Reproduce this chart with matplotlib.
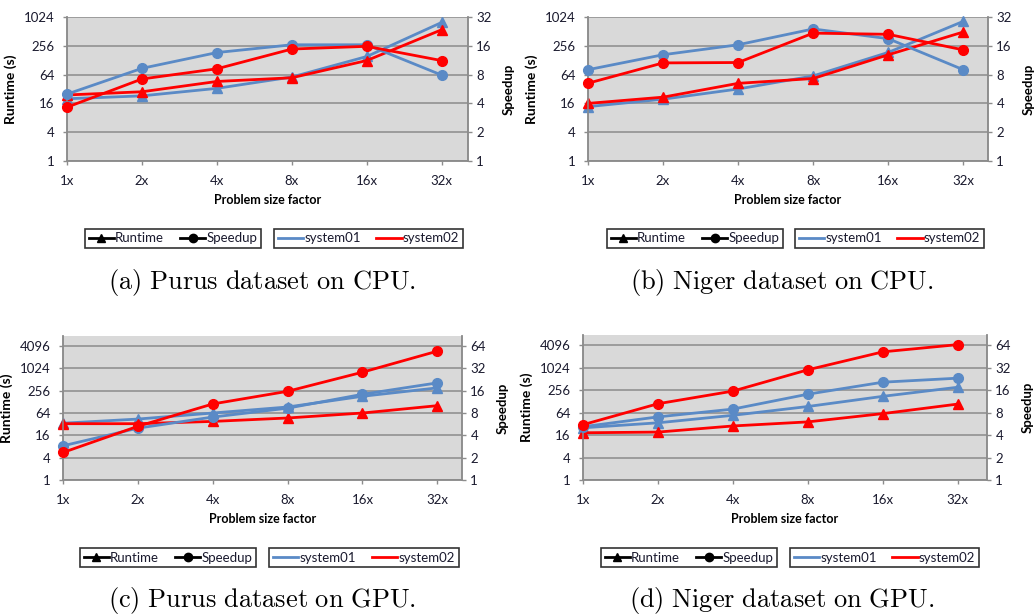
import matplotlib
matplotlib.use("Agg")
import matplotlib.pyplot as plt
from matplotlib.lines import Line2D
from matplotlib.ticker import FixedLocator, FixedFormatter, NullLocator

plt.rcParams['mathtext.fontset'] = 'cm'

categories = ['1x', '2x', '4x', '8x', '16x', '32x']

# (a) Purus dataset on CPU
purus_cpu_rt_sys1 = [20, 23, 33, 57, 153, 790]
purus_cpu_rt_sys2 = [24, 28, 46, 55, 126, 556]
purus_cpu_sp_sys1 = [5.0, 9.3, 13.6, 16.4, 16.4, 7.9]
purus_cpu_sp_sys2 = [3.65, 7.2, 9.2, 14.8, 15.8, 11.2]

# (b) Niger dataset on CPU
niger_cpu_rt_sys1 = [13.7, 19.6, 32, 60, 186, 830]
niger_cpu_rt_sys2 = [16, 21.6, 42, 53, 166, 497]
niger_cpu_sp_sys1 = [9.0, 12.9, 16.4, 24, 19, 9.0]
niger_cpu_sp_sys2 = [6.5, 10.6, 10.7, 21.7, 21.1, 14.5]

# (c) Purus dataset on GPU
purus_gpu_rt_sys1 = [34, 44, 64, 93, 181, 305]
purus_gpu_rt_sys2 = [33, 33, 38, 47, 64, 101]
purus_gpu_sp_sys1 = [2.89, 5.0, 7.06, 9.3, 14.3, 20.4]
purus_gpu_sp_sys2 = [2.35, 5.3, 10.6, 15.7, 28.4, 54.6]

# (d) Niger dataset on GPU
niger_gpu_rt_sys1 = [25, 34, 54, 93, 174, 305]
niger_gpu_rt_sys2 = [18.4, 19.2, 28, 36, 60, 108]
niger_gpu_sp_sys1 = [5.17, 7.0, 8.9, 14.1, 20.4, 23.1]
niger_gpu_sp_sys2 = [5.5, 10.5, 15.5, 29.9, 52, 65]

cpu_left_ticks = [1, 4, 16, 64, 256, 1024]
cpu_right_ticks = [1, 2, 4, 8, 16, 32]
gpu_left_ticks = [1, 4, 16, 64, 256, 1024, 4096]
gpu_right_ticks = [1, 2, 4, 8, 16, 32, 64]

captions = ['(a) Purus dataset on CPU.', '(b) Niger dataset on CPU.',
            '(c) Purus dataset on GPU.', '(d) Niger dataset on GPU.']

BLUE = '#5a8ac6'
RED = '#ff0000'
BG = '#d9d9d9'
GRID = '#8c8c8c'
TXT = '#1a1a2e'
FONT = 'Lato'

W, H = 1035, 616
fig = plt.figure(figsize=(W / 100, H / 100), dpi=100)


def rect(l, r, t, b):
    return [l / W, 1 - b / H, (r - l) / W, (b - t) / H]


panels = [
    dict(box=(67, 468, 17, 161), xr=5.35, lt=cpu_left_ticks, rt=cpu_right_ticks, top_l=1024, top_r=32,
         rt1=purus_cpu_rt_sys1, rt2=purus_cpu_rt_sys2, sp1=purus_cpu_sp_sys1, sp2=purus_cpu_sp_sys2,
         leg_y=(228, 249), leg1=(80, 266), leg2=(272, 465), cap=(262, 283)),
    dict(box=(588, 988, 17, 161), xr=5.33, lt=cpu_left_ticks, rt=cpu_right_ticks, top_l=1024, top_r=32,
         rt1=niger_cpu_rt_sys1, rt2=niger_cpu_rt_sys2, sp1=niger_cpu_sp_sys1, sp2=niger_cpu_sp_sys2,
         leg_y=(228, 249), leg1=(602, 788), leg2=(793, 986), cap=(782, 283)),
    dict(box=(63, 462, 336, 480), xr=5.33, lt=gpu_left_ticks, rt=gpu_right_ticks, top_l=2 ** 12.9, top_r=2 ** 6.45,
         rt1=purus_gpu_rt_sys1, rt2=purus_gpu_rt_sys2, sp1=purus_gpu_sp_sys1, sp2=purus_gpu_sp_sys2,
         leg_y=(547, 568), leg1=(75, 261), leg2=(267, 461), cap=(262, 600)),
    dict(box=(583, 987, 335, 480), xr=5.39, lt=gpu_left_ticks, rt=gpu_right_ticks, top_l=2 ** 12.9, top_r=2 ** 6.45,
         rt1=niger_gpu_rt_sys1, rt2=niger_gpu_rt_sys2, sp1=niger_gpu_sp_sys1, sp2=niger_gpu_sp_sys2,
         leg_y=(547, 568), leg1=(596, 782), leg2=(788, 981), cap=(782, 600)),
]

x = list(range(len(categories)))

for i, p in enumerate(panels):
    l, r, t, b = p['box']
    ax = fig.add_axes(rect(l, r, t, b))
    ax.set_facecolor(BG)
    ax2 = ax.twinx()
    for a in (ax, ax2):
        a.set_yscale('log', base=2)
        a.set_xlim(0, p['xr'])
    ax.set_ylim(1, p['top_l'])
    ax2.set_ylim(1, p['top_r'])
    ax.yaxis.set_major_locator(FixedLocator(p['lt']))
    ax.yaxis.set_major_formatter(FixedFormatter([str(v) for v in p['lt']]))
    ax.yaxis.set_minor_locator(NullLocator())
    ax2.yaxis.set_major_locator(FixedLocator(p['rt']))
    ax2.yaxis.set_major_formatter(FixedFormatter([str(v) for v in p['rt']]))
    ax2.yaxis.set_minor_locator(NullLocator())
    ax.set_xticks(x)
    ax.set_xticklabels(categories)
    ax.grid(axis='y', color=GRID, linewidth=1.1)
    ax.set_axisbelow(True)
    for a in (ax, ax2):
        for s in a.spines.values():
            s.set_color(GRID)
            s.set_linewidth(1.1)
        a.spines['top'].set_visible(False)
    ax.tick_params(axis='x', length=3, width=1, color=GRID, pad=7, labelsize=9.5, labelcolor=TXT)
    ax.tick_params(axis='y', length=3, width=1, color=GRID, pad=6, labelsize=9.5, labelcolor=TXT)
    ax2.tick_params(axis='y', length=3, width=1, color=GRID, pad=3, labelsize=9.5, labelcolor=TXT)
    for lab in ax.get_xticklabels() + ax.get_yticklabels() + ax2.get_yticklabels():
        lab.set_fontfamily(FONT)

    ax.plot(x, p['rt1'], color=BLUE, lw=2, marker='^', ms=7, zorder=3, clip_on=False)
    ax.plot(x, p['rt2'], color=RED, lw=2, marker='^', ms=7, zorder=3, clip_on=False)
    ax2.plot(x, p['sp1'], color=BLUE, lw=2, marker='o', ms=7, zorder=3, clip_on=False)
    ax2.plot(x, p['sp2'], color=RED, lw=2, marker='o', ms=7, zorder=3, clip_on=False)

    ax.set_ylabel('Runtime (s)', fontsize=10, fontweight='bold', family=FONT, labelpad=5, color='black')
    ax2.set_ylabel('Speedup', fontsize=9.5, fontweight='bold', family=FONT, labelpad=8, color='black')
    ax.set_xlabel('Problem size factor', fontsize=9, fontweight='bold', family=FONT, labelpad=5, color='black')

    # legends
    ly0, ly1 = p['leg_y']
    h1 = [Line2D([], [], color='black', lw=2, marker='^', ms=6),
          Line2D([], [], color='black', lw=2, marker='o', ms=6)]
    h2 = [Line2D([], [], color=BLUE, lw=2), Line2D([], [], color=RED, lw=2)]
    for (lx0, lx1), hs, labs in ((p['leg1'], h1, ['Runtime', 'Speedup']),
                                 (p['leg2'], h2, ['system01', 'system02'])):
        lg = fig.legend(hs, labs, loc='center', ncol=2,
                        bbox_to_anchor=((lx0 + lx1) / 2 / W, 1 - (ly0 + ly1) / 2 / H),
                        bbox_transform=fig.transFigure, frameon=True, fancybox=False,
                        prop={'family': FONT, 'size': 9.5}, handlelength=1.9, handletextpad=0.1,
                        columnspacing=1.2, borderpad=0.3, borderaxespad=0)
        lg.get_frame().set_edgecolor('black')
        lg.get_frame().set_linewidth(1.2)
        for tx in lg.get_texts():
            tx.set_color(TXT)

    cx, cy = p['cap']
    cap = captions[i].replace(' ', r'\ ')
    fig.text(cx / W, 1 - cy / H, r'$\mathrm{' + cap + '}$', ha='center', va='center', fontsize=19)

fig.savefig('out.png', dpi=100)
